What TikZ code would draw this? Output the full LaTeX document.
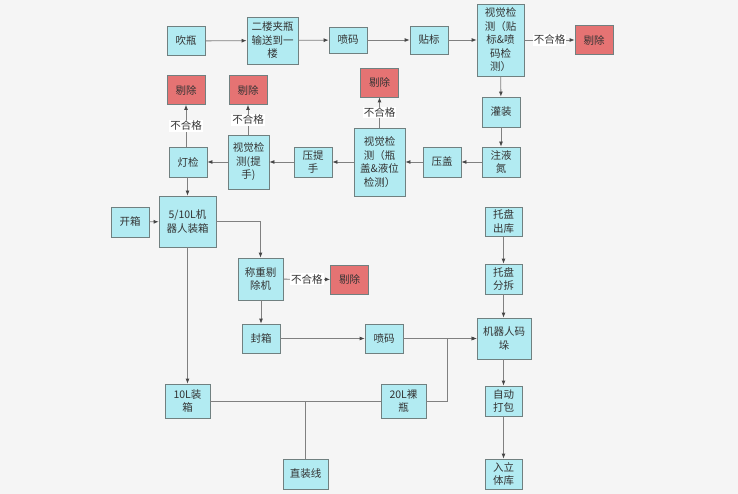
\documentclass[tikz,border=0pt]{standalone}
\usepackage{fontspec}
\setmainfont{Noto Sans CJK SC}
\usetikzlibrary{arrows.meta}
\definecolor{bg}{RGB}{245,245,245}
\definecolor{boxfill}{RGB}{178,235,242}
\definecolor{boxline}{RGB}{112,128,128}
\definecolor{redfill}{RGB}{229,115,115}
\definecolor{conn}{RGB}{128,128,128}
\definecolor{tip}{RGB}{70,70,70}
\tikzset{
  bx/.style={draw=boxline, fill=boxfill, line width=0.8pt, inner sep=0pt, align=center, font=\fontsize{10.5}{13.5}\selectfont, text=black!80},
  rx/.style={bx, fill=redfill, minimum width=38, minimum height=29},
  ln/.style={draw=conn, line width=0.8pt},
  ar/.style={ln, -{Latex[length=5pt,width=4pt,color=tip]}},
  lbl/.style={fill=white, inner sep=1pt, font=\fontsize{10.5}{11}\selectfont, text=black!80}
}
\begin{document}
\begin{tikzpicture}[x=1pt,y=-1pt]
\fill[bg] (0,0) rectangle (738,494);
\useasboundingbox (0,0) rectangle (738,494);
% top row
\node[bx, minimum width=38, minimum height=29] (chui) at (186,41) {吹瓶};
\node[bx, minimum width=51, minimum height=47] (erlou) at (272.5,40.5) {二楼夹瓶\\输送到一\\楼};
\node[bx, minimum width=38, minimum height=26] (pen1) at (348,40) {喷码};
\node[bx, minimum width=38, minimum height=28] (tie) at (429,40) {贴标};
\node[bx, minimum width=47, minimum height=72] (sj1) at (500.5,40) {视觉检\\测（贴\\标\&喷\\码检\\测）};
\node[rx] (ti1) at (594,40) {剔除};
\node[bx, minimum width=38, minimum height=30] (guan) at (501,112) {灌装};
\node[bx, minimum width=38, minimum height=30] (zhu) at (501,162) {注液\\氮};
\node[bx, minimum width=38, minimum height=30] (yagai) at (442,162) {压盖};
\node[bx, minimum width=51, minimum height=68] (sj2) at (379.5,162) {视觉检\\测（瓶\\盖\&液位\\检测）};
\node[rx] (ti2) at (379.5,82.5) {剔除};
\node[bx, minimum width=38, minimum height=30] (yati) at (313,162) {压提\\手};
\node[bx, minimum width=41, minimum height=54] (sj3) at (248.5,162) {视觉检\\测(提\\手)};
\node[rx] (ti3) at (248,90) {剔除};
\node[bx, minimum width=38, minimum height=30] (deng) at (188,162) {灯检};
\node[rx] (ti4) at (186,90) {剔除};
% middle
\node[bx, minimum width=38, minimum height=30] (kai) at (130,222) {开箱};
\node[bx, minimum width=57, minimum height=51] (zx) at (187.5,221.5) {5/10L机\\器人装箱};
\node[bx, minimum width=45, minimum height=42] (cz) at (260.5,279) {称重剔\\除机};
\node[rx] (ti5) at (349.5,279.5) {剔除};
\node[bx, minimum width=38, minimum height=29] (feng) at (261,338.5) {封箱};
\node[bx, minimum width=38, minimum height=29] (pen2) at (384,338.5) {喷码};
% right column
\node[bx, minimum width=37, minimum height=29] (tpc) at (503.5,221.5) {托盘\\出库};
\node[bx, minimum width=37, minimum height=30] (tpf) at (503.5,279) {托盘\\分拆};
\node[bx, minimum width=54, minimum height=41] (md) at (504,338.5) {机器人码\\垛};
\node[bx, minimum width=37, minimum height=30] (db) at (503.5,401) {自动\\打包};
\node[bx, minimum width=37, minimum height=30] (rk) at (503.5,474) {入立\\体库};
% bottom
\node[bx, minimum width=45, minimum height=34] (z10) at (187.5,401) {10L装\\箱};
\node[bx, minimum width=45, minimum height=34] (l20) at (403.5,401) {20L裸\\瓶};
\node[bx, minimum width=45, minimum height=30] (zz) at (305.5,474) {直装线};
\coordinate (tj) at (305.5,401);
% connectors
\draw[ar] (chui) -- (erlou);
\draw[ar] (erlou) -- (pen1);
\draw[ar] (pen1) -- (tie);
\draw[ar] (tie) -- (sj1);
\draw[ar] (sj1) -- node[lbl]{不合格} (ti1);
\draw[ar] (sj1) -- (guan);
\draw[ar] (guan) -- (zhu);
\draw[ar] (zhu) -- (yagai);
\draw[ar] (yagai) -- (sj2);
\draw[ar] (sj2) -- node[lbl]{不合格} (ti2);
\draw[ar] (sj2) -- (yati);
\draw[ar] (yati) -- (sj3);
\draw[ar] (sj3.north -| ti3) -- node[lbl]{不合格} (ti3);
\draw[ar] (sj3) -- (deng);
\draw[ar] (deng.north -| ti4) -- node[lbl]{不合格} (ti4);
\draw[ar] (deng.south -| zx.north) -- (zx);
\draw[ar] (kai) -- (zx);
\draw[ar] (zx.east) -| (cz.north);
\draw[ar] (cz) -- node[lbl]{不合格} (ti5);
\draw[ar] (cz.south -| feng) -- (feng);
\draw[ar] (feng) -- (pen2);
\draw[ar] (pen2) -- (pen2 -| md.west);
\draw[ar] (l20.east) -| (447,338.5) -- (md.west);
\draw[ar] (tpc) -- (tpf);
\draw[ar] (tpf) -- (md.north -| tpf);
\draw[ar] (md.south -| db) -- (db);
\draw[ar] (db) -- (rk);
\draw[ar] (zx) -- (z10);
\draw[ln] (z10) -- (l20);
\draw[ln] (tj) -- (zz);
\end{tikzpicture}
\end{document}
